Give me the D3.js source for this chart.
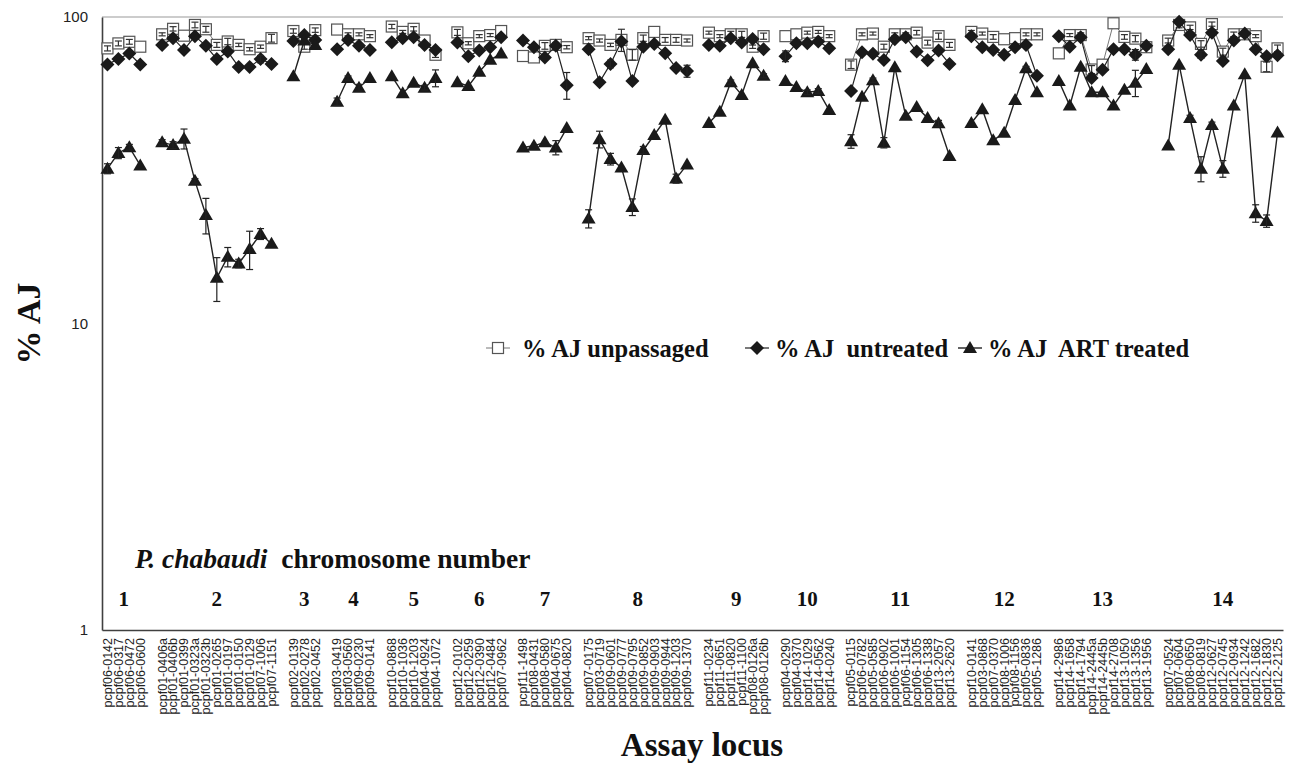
<!DOCTYPE html>
<html>
<head>
<meta charset="utf-8">
<script src="https://cdn.jsdelivr.net/npm/d3@7"></script>
<style>
  body { margin: 0; background: #fff; }
  svg { display: block; }
  text { white-space: pre; }
</style>
</head>
<body>
<script>
// chromosome groups, in plot order
var chromNames = ['1','2','3','4','5','6','7','8','9','10','11','12','13','14'];
var chromSizes = [4, 11, 3, 4, 5, 5, 5, 10, 6, 5, 10, 7, 9, 11];

// assay loci, same order as the groups above
var loci = [
  'pcpf06-0142','pcpf06-0317','pcpf06-0472','pcpf06-0600',
  'pcpf01-0406a','pcpf01-0406b','pcpf01-0399','pcpf01-0323a','pcpf01-0323b','pcpf01-0265','pcpf01-0197','pcpf01-0150','pcpf01-0129','pcpf07-1006','pcpf07-1151',
  'pcpf02-0139','pcpf02-0278','pcpf02-0452',
  'pcpf03-0419','pcpf03-0560','pcpf09-0230','pcpf09-0141',
  'pcpf10-0868','pcpf10-1036','pcpf10-1203','pcpf04-0924','pcpf04-1072',
  'pcpf12-0102','pcpf12-0259','pcpf12-0390','pcpf12-0484','pcpf07-0962',
  'pcpf11-1498','pcpf08-0431','pcpf08-0580','pcpf04-0675','pcpf04-0820',
  'pcpf07-0175','pcpf03-0719','pcpf09-0601','pcpf09-0777','pcpf09-0795','pcpf09-0852','pcpf09-0903','pcpf09-0944','pcpf09-1203','pcpf09-1370',
  'pcpf11-0234','pcpf11-0651','pcpf11-0820','pcpf11-1100','pcpf08-0126a','pcpf08-0126b',
  'pcpf04-0290','pcpf04-0370','pcpf14-1029','pcpf14-0562','pcpf14-0240',
  'pcpf05-0115','pcpf06-0782','pcpf05-0585','pcpf06-0902','pcpf06-1001','pcpf06-1154','pcpf06-1305','pcpf06-1338','pcpf13-2057','pcpf13-2620',
  'pcpf10-0141','pcpf03-0868','pcpf07-0370','pcpf08-1006','pcpf08-1156','pcpf05-0836','pcpf05-1286',
  'pcpf14-2986','pcpf14-1658','pcpf14-1794','pcpf14-2445a','pcpf14-2445b','pcpf14-2708','pcpf13-1050','pcpf13-1356','pcpf13-1956',
  'pcpf07-0524','pcpf07-0604','pcpf08-0650','pcpf08-0819','pcpf12-0627','pcpf12-0745','pcpf12-0934','pcpf12-1242','pcpf12-1682','pcpf12-1830','pcpf12-2125'
];

// % AJ unpassaged (open squares)
var unpassaged = [
  79, 82, 83, 80,
  87.8, 91.5, 86.9, 94.2, 91.2, 81.1, 83.2, 81.1, 78.5, 80, 85.3,
  90, 80, 90.6,
  91, 87.8, 87.8, 86.6,
  93.1, 89.4, 91.5, 83.8, 75.3,
  89.1, 82.1, 86.6, 87.3, 90,
  74.6, 73.8, 80.5, 81.1, 79.7,
  85.3, 83.8, 81.1, 84.2, 75.3, 85.3, 89.4, 84.2, 84.2, 83.8,
  88.9, 86.6, 87.8, 87.8, 80, 86.6,
  86.6, 87.8, 88.9, 89.4, 86.6,
  69.9, 87.8, 88.3, 80, 87.8, 87.8, 88.9, 82.5, 86.6, 81.1,
  89.4, 88.3, 86.1, 84.6, 85.3, 87.8, 87.8,
  76.1, 87.3, 87.3, 67.4, 69.9, 95.4, 86.1, 85, 79.7,
  83.8, 94.2, 92.5, 81.7, 94.8, 77.1, 87.8, 87.8, 86.6, 68.8, 79
];

// % AJ untreated (filled diamonds)
var untreated = [
  70, 73, 76, 70,
  81.1, 85.3, 78.1, 86.6, 80.5, 72.9, 77.1, 68.7, 68.7, 72.9, 70.3,
  83.5, 87.3, 84.2,
  78.5, 84.2, 80.5, 78.1,
  82.7, 85.3, 85.9, 81.1, 78.1,
  82.5, 74.5, 77.7, 79.7, 85.9,
  83.8, 79.7, 73.8, 80.5, 59.9,
  78.5, 61.3, 70.3, 83.2, 61.8, 80, 81.7, 76.1, 68.2, 66.6,
  81.1, 80.5, 85.3, 82.5, 84.8, 78.5,
  74.5, 82.1, 82.1, 83.2, 79.1,
  57.4, 76.7, 75.9, 72.4, 84.6, 85.9, 77.1, 72.3, 77.7, 70.3,
  86.6, 79.7, 78.1, 75.3, 79.7, 81.1, 64.3,
  86.6, 80, 85.9, 63.2, 67.3, 78.5, 78.5, 75.3, 80.5,
  78.5, 96.5, 87.3, 75.3, 88.9, 71.8, 83.8, 88.3, 78.5, 74.5, 75
];

// % AJ ART treated (filled triangles)
var artTreated = [
  32, 36, 37.6, 32.8,
  39, 38.2, 40.1, 29.2, 22.6, 14.1, 16.5, 15.7, 17.5, 19.6, 18.2,
  64.1, 83.8, 81.1,
  52.9, 63.2, 58.8, 63.2,
  64.1, 56.4, 61, 58.8, 63.2,
  61.3, 59.5, 66.3, 72.5, 76,
  37.5, 38, 39, 37.5, 43.4,
  22, 39.9, 34.4, 32.3, 24, 36.8, 41.2, 46.2, 29.7, 33,
  45.1, 49.1, 61.3, 55.7, 70.7, 64.3,
  61.8, 59.1, 56.8, 57.4, 49.7,
  39.3, 54.9, 62.2, 38.9, 68.6, 47.6, 50.9, 46.8, 45, 35.2,
  45.1, 50, 39.6, 41.9, 53.6, 68, 56.8,
  61.8, 51.4, 68.8, 56.8, 56.8, 51.4, 57.9, 61, 67.6,
  38.1, 69.9, 46.8, 32, 44.4, 32, 51.4, 65.1, 22.9, 21.6, 42
];

// error bars (+/- in % AJ)
var errUnpassaged = [
  1.5, 1.5, 1.5, 0,
  1, 1.5, 0, 2, 2, 1.5, 2, 1, 1, 1, 2.5,
  1.5, 1.5, 1.5,
  0, 1, 1, 1,
  1.5, 1, 1.5, 0, 1.5,
  2, 1, 1, 1, 0,
  0, 0, 2, 1.5, 1,
  1, 1, 1, 7, 3, 2, 0, 1.5, 1.5, 1,
  1, 1, 2, 2, 1, 2,
  0, 0, 1, 1, 1,
  2, 1, 1, 1.5, 1, 1, 1.5, 1.5, 2, 1.5,
  1, 1, 1.5, 0, 0, 1, 1,
  0, 1, 1.5, 2, 0, 0, 1.5, 2, 1,
  1.5, 2, 1.5, 2, 1.5, 2, 1.5, 1.5, 1, 2.5, 2
];
var errUntreated = [
  0, 0, 0, 0,
  0, 0, 0, 0, 0, 0, 0, 0, 0, 2, 0,
  0, 0, 0,
  0, 0, 0, 0,
  0, 0, 0, 0, 0,
  0, 0, 0, 0, 0,
  0, 0, 0, 0, 6,
  0, 0, 2, 0, 0, 0, 0, 0, 0, 3,
  0, 0, 0, 0, 0, 0,
  3, 0, 0, 0, 0,
  0, 0, 0, 0, 0, 0, 0, 0, 0, 0,
  0, 0, 0, 0, 0, 0, 0,
  0, 0, 0, 0, 0, 0, 0, 3, 0,
  0, 0, 0, 2, 0, 0, 0, 0, 0, 0, 0
];
var errArt = [
  1.2, 1.5, 0.8, 0,
  0.8, 1, 3, 0.5, 3, 2.3, 1.2, 0.5, 2.5, 0.8, 0,
  0, 0, 0,
  1.5, 1, 1.5, 0,
  0, 0, 0, 1, 4,
  0, 0, 0, 0, 0,
  0, 0, 0, 2, 0,
  1.5, 2.5, 1.5, 0, 1.5, 1, 0, 0, 1, 0,
  0, 0, 1, 0, 0, 1,
  0, 0, 1, 1, 0,
  2, 0, 1, 1.5, 0, 0, 0, 0, 1, 0,
  0, 0, 0, 0, 0, 1, 0,
  0, 0, 0, 0, 0, 0, 0, 6, 0,
  0, 0, 1, 3, 1, 2, 0, 0, 1.5, 1, 0
];

var yTicks = [1, 10, 100];

var width = 1289, height = 767;
var plotL = 102, plotR = 1283, plotT = 17, plotB = 630;

var svg = d3.select('body').append('svg').attr('width', width).attr('height', height);

// build the category slots: loci with one empty slot between chromosomes
var slots = [];
var groups = [];
var k = 0;
chromSizes.forEach(function(n, c) {
  var idx = [];
  for (var j = 0; j < n; j++) { slots.push(loci[k]); idx.push(k); k++; }
  groups.push(idx);
  if (c < chromSizes.length - 1) slots.push('gap' + c);
});

var x = d3.scaleBand().domain(slots).range([plotL, plotR]).padding(0);
var y = d3.scaleLog().domain([1, 100]).range([plotB, plotT]);
function cx(i) { return x(loci[i]) + x.bandwidth() / 2; }

// top frame line
svg.append('line').attr('x1', plotL).attr('x2', plotR).attr('y1', plotT).attr('y2', plotT)
  .attr('stroke', '#9a9a9a').attr('stroke-width', 1.2);

// axes
var xAxis = svg.append('g').attr('transform', 'translate(0,' + plotB + ')')
  .call(d3.axisBottom(x).tickSize(0).tickSizeOuter(0)
    .tickFormat(function(d) { return d.indexOf('gap') === 0 ? '' : d; }));
xAxis.select('.domain').attr('stroke', '#404040').attr('stroke-width', 1.6);
xAxis.selectAll('text')
  .attr('transform', 'rotate(-90)')
  .attr('x', -8).attr('y', 0).attr('dy', '0.35em')
  .style('text-anchor', 'end')
  .style('font-family', 'Liberation Sans, Arial, sans-serif')
  .style('font-size', '12.5px').attr('fill', '#222');

var yAxis = svg.append('g').attr('transform', 'translate(' + plotL + ',0)')
  .call(d3.axisLeft(y).tickValues(yTicks).tickFormat(d3.format('d')).tickSize(0).tickSizeOuter(0).tickPadding(14));
yAxis.select('.domain').attr('stroke', '#404040').attr('stroke-width', 1.6);
yAxis.selectAll('text').style('font-family', 'Liberation Sans, Arial, sans-serif')
  .style('font-size', '15px').attr('fill', '#222');

// series definitions
var series = [
  { name: '% AJ unpassaged', values: unpassaged, err: errUnpassaged, shape: 'square', line: '#777', lw: 1 },
  { name: '% AJ  untreated', values: untreated, err: errUntreated, shape: 'diamond', line: '#222', lw: 1.2 },
  { name: '% AJ  ART treated', values: artTreated, err: errArt, shape: 'triangle', line: '#222', lw: 1.4 }
];

function drawMarker(g, shape, px, py) {
  if (shape === 'square') {
    g.append('rect').attr('x', px - 5.5).attr('y', py - 5.5).attr('width', 11).attr('height', 11)
      .attr('fill', '#fff').attr('stroke', '#555').attr('stroke-width', 1.2);
  } else if (shape === 'diamond') {
    g.append('path').attr('d', 'M' + px + ',' + (py - 7) + 'L' + (px + 7) + ',' + py + 'L' + px + ',' + (py + 7) + 'L' + (px - 7) + ',' + py + 'Z')
      .attr('fill', '#1a1a1a');
  } else {
    g.append('path').attr('d', 'M' + px + ',' + (py - 7) + 'L' + (px + 7) + ',' + (py + 5) + 'L' + (px - 7) + ',' + (py + 5) + 'Z')
      .attr('fill', '#1a1a1a');
  }
}

var line = d3.line().x(function(i) { return cx(i); });

series.forEach(function(s) {
  var g = svg.append('g');
  // lines within each chromosome
  groups.forEach(function(idx) {
    g.append('path').datum(idx)
      .attr('d', line.y(function(i) { return y(s.values[i]); }))
      .attr('fill', 'none').attr('stroke', s.line).attr('stroke-width', s.lw);
  });
  // markers
  loci.forEach(function(l, i) { drawMarker(g, s.shape, cx(i), y(s.values[i])); });
  // error bars
  loci.forEach(function(l, i) {
    var e = s.err[i];
    if (!e) return;
    var px = cx(i), y1 = y(s.values[i] + e), y2 = y(Math.max(s.values[i] - e, 1.01));
    var col = s.shape === 'square' ? '#333' : '#222';
    g.append('line').attr('x1', px).attr('x2', px).attr('y1', y1).attr('y2', y2).attr('stroke', col).attr('stroke-width', 1.2);
    g.append('line').attr('x1', px - 3.5).attr('x2', px + 3.5).attr('y1', y1).attr('y2', y1).attr('stroke', col).attr('stroke-width', 1.2);
    g.append('line').attr('x1', px - 3.5).attr('x2', px + 3.5).attr('y1', y2).attr('y2', y2).attr('stroke', col).attr('stroke-width', 1.2);
  });
});

// legend: marker centres and text starts
var legendMark = [498, 757, 970];
var legendText = [522, 775, 988];
var legend = svg.append('g').style('font-family', 'Liberation Serif, Times New Roman, serif');
series.forEach(function(s, i) {
  var lx = legendMark[i], ly = 348;
  legend.append('line').attr('x1', lx - 12).attr('x2', lx + 12).attr('y1', ly).attr('y2', ly)
    .attr('stroke', s.line).attr('stroke-width', s.lw);
  drawMarker(legend, s.shape, lx, ly);
  legend.append('text').attr('x', legendText[i]).attr('y', ly + 9)
    .style('font-size', '24.5px').style('font-weight', 'bold').attr('fill', '#111')
    .text(s.name);
});

// chromosome annotation
var ann = svg.append('g').style('font-family', 'Liberation Serif, Times New Roman, serif')
  .style('font-weight', 'bold').attr('fill', '#111');
var t = ann.append('text').attr('x', 135).attr('y', 568).style('font-size', '27.5px');
t.append('tspan').style('font-style', 'italic').text('P. chabaudi');
t.append('tspan').text('  chromosome number');

groups.forEach(function(idx, c) {
  var mid = (cx(idx[0]) + cx(idx[idx.length - 1])) / 2;
  ann.append('text').attr('x', mid).attr('y', 606).attr('text-anchor', 'middle')
    .style('font-size', '21px').text(chromNames[c]);
});

// axis titles
svg.append('text').attr('transform', 'translate(40,' + (plotT + plotB) / 2 + ') rotate(-90)')
  .attr('text-anchor', 'middle')
  .style('font-family', 'Liberation Serif, Times New Roman, serif').style('font-weight', 'bold')
  .style('font-size', '34px').attr('fill', '#111').text('% AJ');

svg.append('text').attr('x', 702).attr('y', 756).attr('text-anchor', 'middle')
  .style('font-family', 'Liberation Serif, Times New Roman, serif').style('font-weight', 'bold')
  .style('font-size', '33px').attr('fill', '#111').text('Assay locus');
</script>
</body>
</html>
